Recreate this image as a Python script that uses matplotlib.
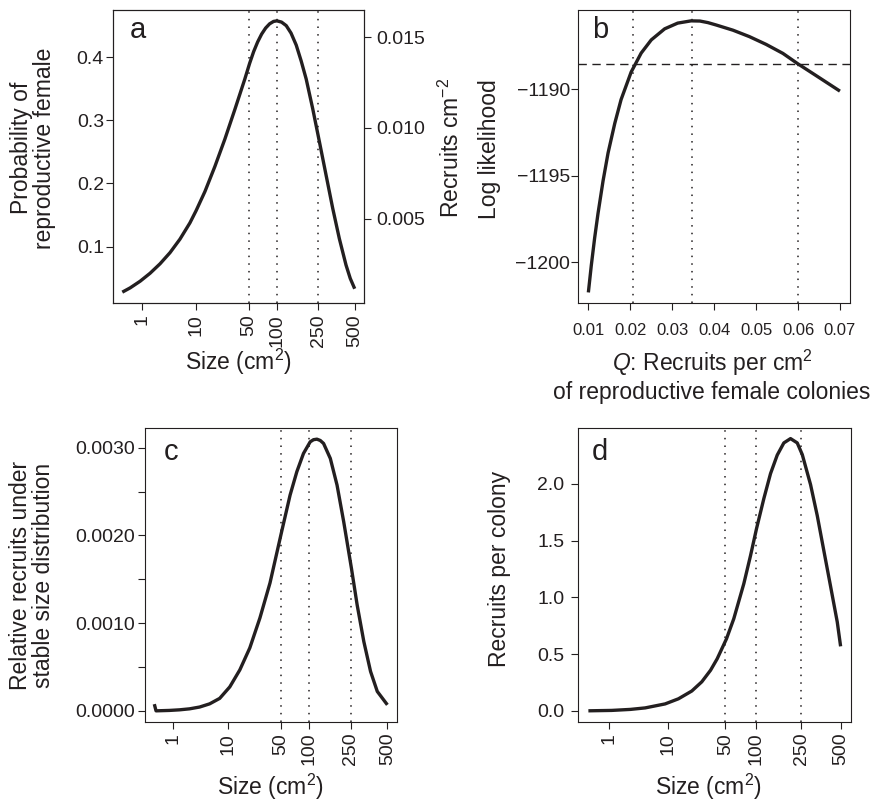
import matplotlib
matplotlib.use('Agg')
import matplotlib.pyplot as plt
import numpy as np
from matplotlib.ticker import NullLocator, FormatStrFormatter

plt.rcParams['font.family'] = ['Liberation Sans', 'DejaVu Sans']
plt.rcParams['mathtext.fontset'] = 'custom'
plt.rcParams['mathtext.rm'] = 'Liberation Sans'
plt.rcParams['mathtext.it'] = 'Liberation Sans:italic'
plt.rcParams['mathtext.default'] = 'regular'

# ---- data ----
size_ticks = [1, 10, 50, 100, 250, 500]
size_marks = [50, 100, 250]

# a: probability of reproductive female vs size
size_a = [0.33, 0.53, 0.92, 1.51, 2.40, 3.69, 5.50, 8.0, 10.0, 13.5, 18.6, 25.3, 33.8,
          44.6, 50.9, 56.6, 62.7, 69.4, 76.7, 84.6, 93.1, 100.7, 112.4, 125.2, 139.5,
          156.5, 174.4, 194.0, 222.6, 255.1, 291.5, 331.5, 376.5, 426.6, 461.3, 500.0]
prob_a = [0.0277, 0.0345, 0.0451, 0.0576, 0.0726, 0.0903, 0.1117, 0.1375, 0.1571, 0.1873,
          0.2268, 0.2703, 0.3170, 0.3652, 0.3906, 0.4092, 0.4244, 0.4369, 0.4465, 0.4532,
          0.4570, 0.4579, 0.4559, 0.4503, 0.4385, 0.4195, 0.3942, 0.3657, 0.3183, 0.2661,
          0.2131, 0.1609, 0.1126, 0.0707, 0.0494, 0.0331]
q_hat = 0.0347  # recruits per cm2 of reproductive female (right axis of a)

# b: profile log likelihood of Q
q_b = [0.0100, 0.0107, 0.0115, 0.0123, 0.0135, 0.0147, 0.0163, 0.0178, 0.0202, 0.0226,
       0.0250, 0.0282, 0.0313, 0.0345, 0.0366, 0.0385, 0.0405, 0.0445, 0.0484, 0.0524,
       0.0564, 0.0599, 0.0643, 0.0700]
ll_b = [-1201.73, -1200.17, -1198.58, -1197.17, -1195.29, -1193.67, -1191.96, -1190.59,
        -1189.00, -1187.90, -1187.14, -1186.50, -1186.17, -1186.04, -1186.05, -1186.14,
        -1186.28, -1186.58, -1186.95, -1187.40, -1187.92, -1188.51, -1189.20, -1190.10]
q_ci = [0.0206, 0.0346, 0.0600]
ll_cut = -1188.54

# c: relative recruits under stable size distribution
size_c = [0.356, 0.395, 0.48, 0.84, 1.40, 2.24, 3.46, 5.18, 7.56, 10.8, 15.1, 20.7, 28.0,
          37.3, 51.3, 63.6, 75.3, 88.5, 103.8, 112.1, 121.2, 130.7, 140.7, 163.1, 188.3,
          216.3, 253.2, 283.7, 323.0, 367.2, 416.3, 500.0]
rel_c = [0.0000763, 0.0, 0.0000011, 0.0000046, 0.0000114, 0.0000228, 0.0000433, 0.0000797,
         0.000142, 0.000273, 0.000467, 0.000718, 0.001059, 0.001458, 0.002050, 0.002460,
         0.002727, 0.002935, 0.003068, 0.003092, 0.003098, 0.003083, 0.003049, 0.002878,
         0.002574, 0.002157, 0.001625, 0.001207, 0.000790, 0.000449, 0.000221, 0.0000683]

# d: recruits per colony
size_d = [0.348, 1.15, 2.59, 4.57, 9.14, 13.9, 20.6, 27.2, 34.3, 40.7, 51.3, 61.1, 77.1,
          89.6, 102.2, 119.5, 137.4, 157.5, 179.7, 204.7, 232.6, 255.6, 297.4, 335.3,
          376.3, 422.4, 472.9, 500.0]
rec_d = [0.0, 0.0035, 0.0124, 0.0256, 0.0609, 0.1059, 0.1747, 0.2559, 0.3574, 0.4588,
         0.6353, 0.8118, 1.1206, 1.3677, 1.6059, 1.8706, 2.0912, 2.2545, 2.3621, 2.4001,
         2.3621, 2.2589, 1.9942, 1.7206, 1.4118, 1.0980, 0.7830, 0.5683]

ink = '#231f20'
W, H = 878, 802
TICK = 14
XTICK = 14
LAB = 16.5
LW = 2.4
DOT = (0, (1, 4))

fig = plt.figure(figsize=(W / 100, H / 100), dpi=100)


def px_axes(l, t, r, b):
    return fig.add_axes([l / W, 1 - b / H, (r - l) / W, (b - t) / H])


def fig_text(x, y, s, **kw):
    fig.text(x / W, 1 - y / H, s, ha='center', va='center', fontsize=LAB, color=ink, **kw)


# size axis drawn on a power scale (size ** 0.17), as in the original
P = 0.17
fwd = lambda x: np.power(np.clip(x, 1e-9, None), P)
inv = lambda t: np.power(np.clip(t, 0, None), 1 / P)


def style(ax, ypad):
    for s in ax.spines.values():
        s.set_linewidth(0.8)
        s.set_color(ink)
    ax.tick_params(direction='out', length=5, width=0.8, labelsize=TICK, colors=ink)
    ax.tick_params(axis='y', pad=ypad)


def size_axis(ax):
    ax.set_xscale('function', functions=(fwd, inv))
    ax.set_xticks(size_ticks)
    ax.set_xticklabels([str(s) for s in size_ticks], rotation=90)
    ax.xaxis.set_minor_locator(NullLocator())
    ax.margins(x=0.04, y=0.04)
    for s in size_marks:
        ax.axvline(s, color=ink, lw=1.1, ls=DOT)


def size_ticks_style(ax):
    ax.tick_params(axis='x', pad=3, labelsize=XTICK)


# ---- panel a ----
ax = px_axes(113, 10, 364, 303)
ax.plot(size_a, prob_a, color=ink, lw=LW, solid_capstyle='butt')
size_axis(ax)
ax.set_yticks([0.1, 0.2, 0.3, 0.4])
ax.yaxis.set_major_formatter(FormatStrFormatter('%.1f'))
style(ax, 1.5)
size_ticks_style(ax)
ax.text(0.068, 0.904, 'a', transform=ax.transAxes, fontsize=21, color=ink)
ylo, yhi = ax.get_ylim()
ax2 = ax.twinx()
ax2.set_ylim(ylo * q_hat, yhi * q_hat)
ax2.set_yticks([0.005, 0.010, 0.015])
ax2.yaxis.set_major_formatter(FormatStrFormatter('%.3f'))
style(ax2, 4)
fig_text(33, 148, 'Probability of\nreproductive female', rotation=90, linespacing=1.05)
fig_text(451, 148, 'Recruits cm$^{-2}$', rotation=90)
fig_text(238, 362, 'Size (cm$^{2}$)')

# ---- panel b ----
ax = px_axes(578.3, 10, 850, 303.3)
ax.plot(q_b, ll_b, color=ink, lw=LW, solid_capstyle='butt')
ax.margins(x=0.04, y=0.04)
for q in q_ci:
    ax.axvline(q, color=ink, lw=1.1, ls=DOT)
ax.axhline(ll_cut, color=ink, lw=1, ls=(0, (6, 4)))
ax.set_xticks([0.01, 0.02, 0.03, 0.04, 0.05, 0.06, 0.07])
ax.xaxis.set_major_formatter(FormatStrFormatter('%.2f'))
ax.set_yticks([-1200, -1195, -1190])
style(ax, 1)
ax.tick_params(axis='x', pad=9, labelsize=12)
ax.text(0.049, 0.9035, 'b', transform=ax.transAxes, fontsize=21, color=ink)
fig_text(490, 149, 'Log likelihood', rotation=90)
fig_text(712, 363, '$\\mathit{Q}$: Recruits per cm$^{2}$')
fig_text(712, 392, 'of reproductive female colonies')

# ---- panel c ----
ax = px_axes(145, 428.3, 396.7, 721.7)
ax.plot(size_c, rel_c, color=ink, lw=LW, solid_capstyle='butt')
size_axis(ax)
ax.set_yticks([0.0, 0.0005, 0.0010, 0.0015, 0.0020, 0.0025, 0.0030])
ax.set_yticklabels(['0.0000', '', '0.0010', '', '0.0020', '', '0.0030'])
style(ax, 2.5)
size_ticks_style(ax)
ax.text(0.073, 0.892, 'c', transform=ax.transAxes, fontsize=21, color=ink)
fig_text(32, 575, 'Relative recruits under\nstable size distribution', rotation=90,
         linespacing=1.05)
fig_text(270, 787, 'Size (cm$^{2}$)')

# ---- panel d ----
ax = px_axes(578.3, 427.7, 850.7, 721.7)
ax.plot(size_d, rec_d, color=ink, lw=LW, solid_capstyle='butt')
size_axis(ax)
ax.set_yticks([0.0, 0.5, 1.0, 1.5, 2.0])
ax.yaxis.set_major_formatter(FormatStrFormatter('%.1f'))
style(ax, 5)
size_ticks_style(ax)
ax.text(0.049, 0.891, 'd', transform=ax.transAxes, fontsize=21, color=ink)
fig_text(500, 569, 'Recruits per colony', rotation=90)
fig_text(708, 787, 'Size (cm$^{2}$)')

fig.savefig('out.png', dpi=100)
